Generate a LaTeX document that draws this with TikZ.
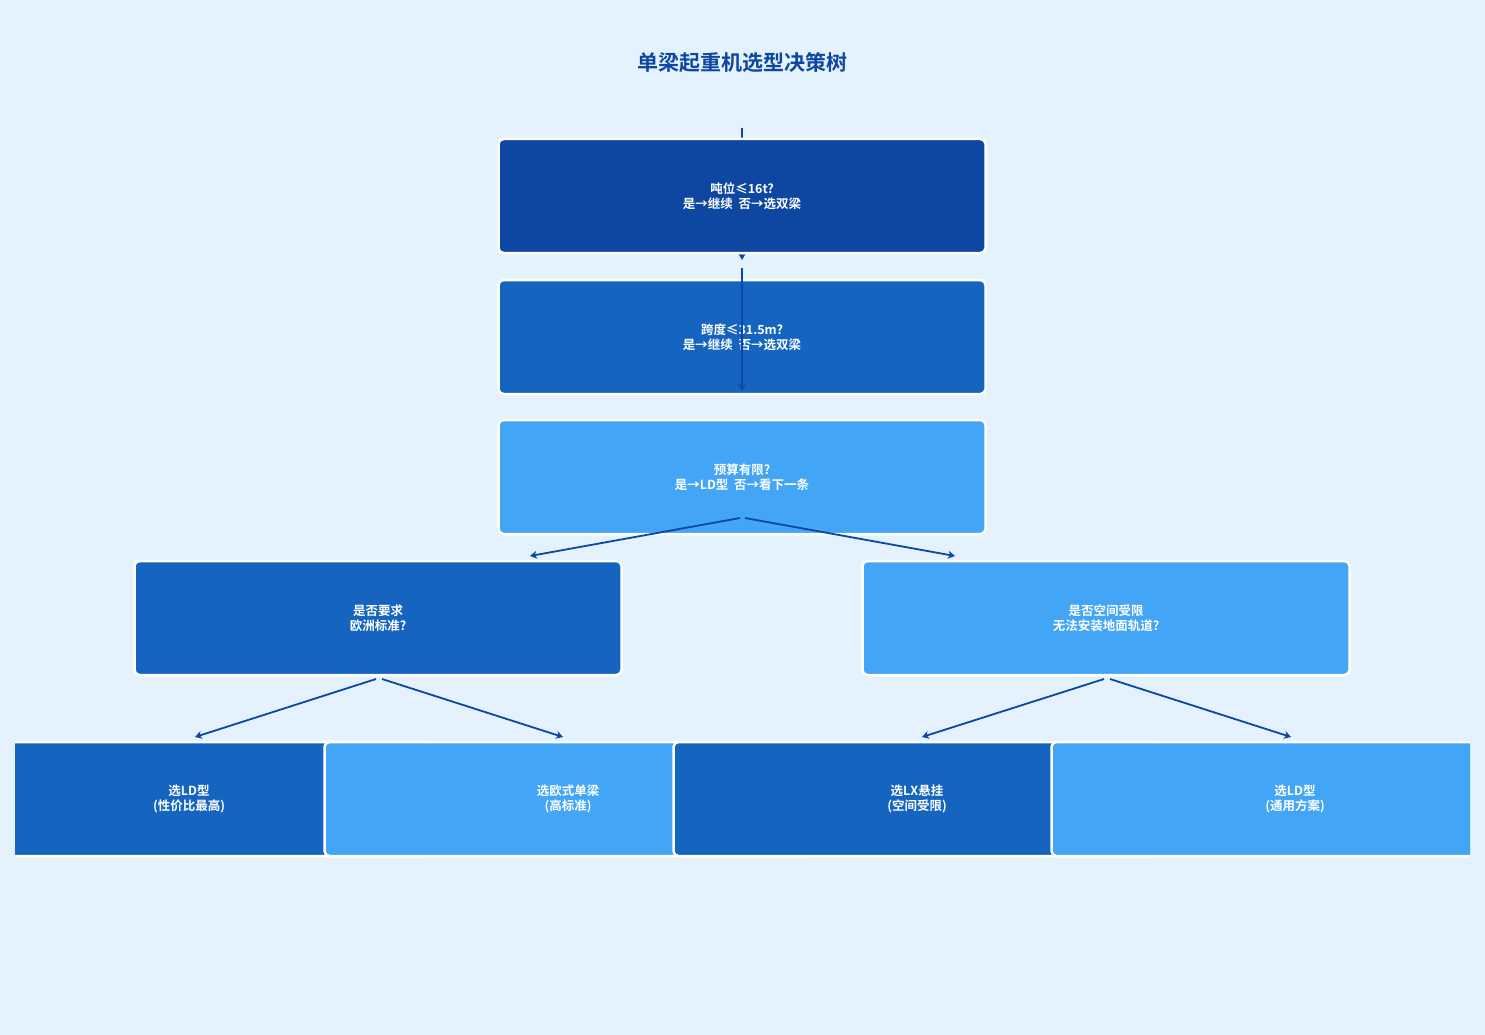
\documentclass[tikz,border=0pt]{standalone}
\usepackage{fontspec}
\setmainfont{Noto Sans CJK SC}[BoldFont={* Bold}]
\usetikzlibrary{arrows.meta}
\definecolor{bg}{HTML}{E3F2FD}
\definecolor{cd}{HTML}{0D47A1}
\definecolor{cm}{HTML}{1565C0}
\definecolor{cl}{HTML}{42A5F5}
\begin{document}
\begin{tikzpicture}[x=1pt,y=-1pt,
 box/.style={draw=white,line width=2.5pt,rounded corners=5pt,minimum width=487pt,minimum height=114pt,text=white,font=\bfseries\fontsize{12.5}{15}\selectfont,align=center},
 arr/.style={draw=cd,line width=1.8pt,-{Stealth[length=7pt,width=8pt]}}]
\fill[bg] (0,0) rectangle (1485,1035);
\useasboundingbox (0,0) rectangle (1485,1035);
\node[text=cd,font=\bfseries\fontsize{21}{25}\selectfont] (title) at (742,63) {单梁起重机选型决策树};
\coordinate (s0) at (742,128);
\coordinate (e0) at (742,260);
\draw[arr] (s0) -- (e0);
\node[box,fill=cd] (n1) at (742,196) {吨位≤16t?\\是→继续\ \ 否→选双梁};
\node[box,fill=cm] (n2) at (742,337) {跨度≤31.5m?\\是→继续\ \ 否→选双梁};
\coordinate (s1) at (742,268);
\coordinate (e1) at (742,391);
\draw[arr] (s1) -- (e1);
\node[box,fill=cl] (n3) at (742,477) {预算有限?\\是→LD型\ \ 否→看下一条};
\node[box,fill=cm] (n4) at (378,618) {是否要求\\欧洲标准?};
\node[box,fill=cl] (n5) at (1106,618) {是否空间受限\\无法安装地面轨道?};
\begin{scope}
\clip (15,0) rectangle (1470,1035);
\node[box,fill=cm] (l1) at (189,799) {选LD型\\(性价比最高)};
\node[box,fill=cl] (l2) at (568,799) {选欧式单梁\\(高标准)};
\node[box,fill=cm] (l3) at (917,799) {选LX悬挂\\(空间受限)};
\node[box,fill=cl] (l4) at (1295,799) {选LD型\\(通用方案)};
\end{scope}
\coordinate (a) at (740,518);
\coordinate (b) at (745,518);
\draw[arr] (a) -- (530,556);
\draw[arr] (b) -- (955,556);
\coordinate (c) at (376,679);
\coordinate (d) at (382,679);
\draw[arr] (c) -- (195,737);
\draw[arr] (d) -- (563,737);
\coordinate (e) at (1104,679);
\coordinate (f) at (1110,679);
\draw[arr] (e) -- (922,737);
\draw[arr] (f) -- (1291,737);
\end{tikzpicture}
\end{document}
